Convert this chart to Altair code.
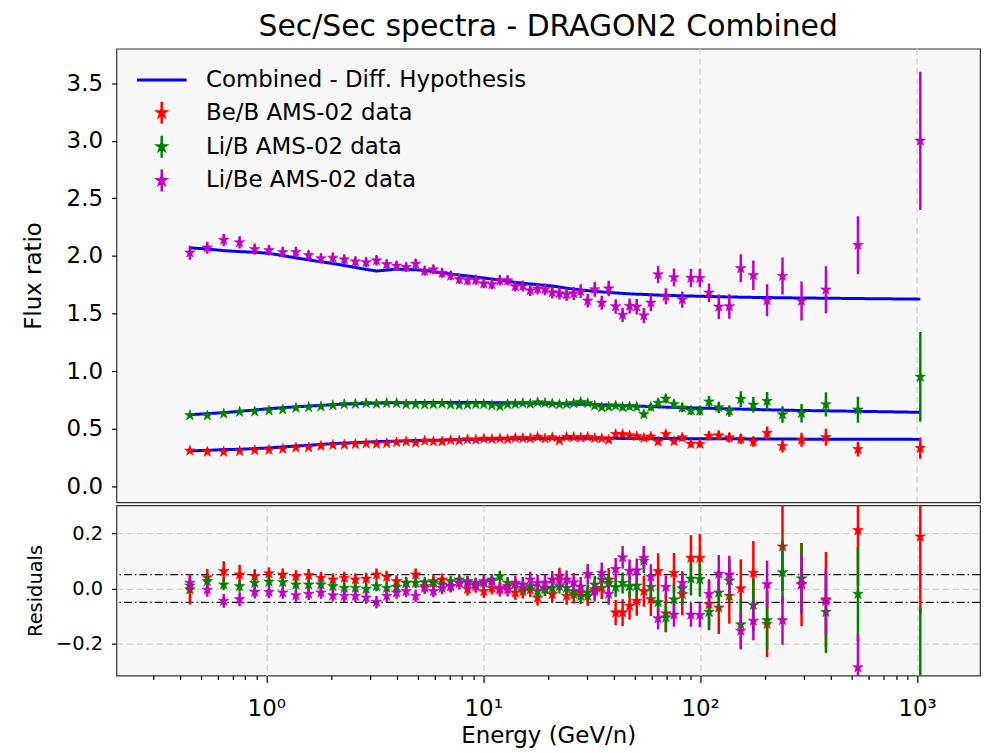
import altair as alt
import pandas as pd

# ---------------- data ----------------
ENERGY = [0.445, 0.535, 0.637, 0.754, 0.885, 1.030, 1.192, 1.371, 1.569, 1.788,
          2.029, 2.290, 2.576, 2.887, 3.225, 3.591, 3.988, 4.415, 4.883, 5.377,
          5.896, 6.465, 7.085, 7.756, 8.476, 9.247, 10.07, 10.97, 11.94, 12.96,
          14.06, 15.23, 16.48, 17.82, 19.27, 20.82, 22.47, 24.24, 26.14, 28.16,
          30.33, 32.68, 35.20, 37.90, 40.80, 43.92, 47.29, 51.03, 55.03, 59.28,
          64.02, 69.50, 75.75, 82.73, 90.71, 99.70, 109.9, 121.9, 136.3, 154.0,
          175.9, 203.5, 239.7, 293.4, 380.1, 533.9, 1034.7]

# model curves (Combined - Diff. Hypothesis) at the data energies
MODEL_BEB = [0.307, 0.312, 0.318, 0.321, 0.327, 0.333, 0.341, 0.350, 0.355, 0.364,
             0.370, 0.375, 0.378, 0.384, 0.387, 0.390, 0.392, 0.395, 0.397, 0.398,
             0.400, 0.401, 0.403, 0.404, 0.406, 0.407, 0.408, 0.410, 0.411, 0.412,
             0.413, 0.413, 0.414, 0.414, 0.415, 0.415, 0.416, 0.416, 0.416, 0.416,
             0.416, 0.416, 0.416, 0.416, 0.416, 0.415, 0.415, 0.415, 0.415, 0.415,
             0.414, 0.414, 0.414, 0.414, 0.413, 0.413, 0.413, 0.412, 0.412, 0.411,
             0.411, 0.410, 0.410, 0.409, 0.409, 0.408, 0.407]
MODEL_LIB = [0.622, 0.630, 0.639, 0.651, 0.662, 0.674, 0.682, 0.690, 0.696, 0.702,
             0.708, 0.714, 0.716, 0.720, 0.722, 0.724, 0.725, 0.726, 0.726, 0.727,
             0.727, 0.727, 0.727, 0.727, 0.727, 0.727, 0.727, 0.726, 0.726, 0.725,
             0.724, 0.723, 0.722, 0.721, 0.720, 0.719, 0.717, 0.715, 0.713, 0.712,
             0.711, 0.709, 0.707, 0.705, 0.703, 0.700, 0.698, 0.696, 0.694, 0.692,
             0.689, 0.687, 0.685, 0.683, 0.681, 0.679, 0.677, 0.675, 0.672, 0.670,
             0.667, 0.664, 0.661, 0.658, 0.655, 0.651, 0.642]
MODEL_LIBE = [2.070, 2.061, 2.046, 2.038, 2.032, 2.023, 2.003, 1.983, 1.966, 1.949,
              1.935, 1.917, 1.900, 1.883, 1.869, 1.877, 1.886, 1.883, 1.880, 1.874,
              1.863, 1.855, 1.843, 1.834, 1.826, 1.817, 1.808, 1.800, 1.791, 1.780,
              1.771, 1.763, 1.757, 1.751, 1.745, 1.739, 1.730, 1.720, 1.712, 1.705,
              1.699, 1.693, 1.688, 1.683, 1.679, 1.675, 1.671, 1.668, 1.666, 1.663,
              1.660, 1.658, 1.656, 1.654, 1.652, 1.650, 1.648, 1.646, 1.644, 1.642,
              1.640, 1.639, 1.637, 1.635, 1.633, 1.630, 1.625]

# residuals (model - data) / model
RES_BEB = [-0.004, 0.040, 0.062, 0.050, 0.044, 0.054, 0.050, 0.044, 0.048, 0.038,
           0.032, 0.038, 0.032, 0.035, 0.050, 0.042, 0.026, 0.020, 0.050, 0.008,
           0.026, 0.032, 0.008, 0.020, -0.002, 0.008, -0.010, 0.002, -0.004, 0.008,
           -0.015, -0.010, -0.004, -0.033, 0.002, -0.021, 0.044, -0.027, -0.021, -0.015,
           -0.027, -0.004, 0.002, 0.032, -0.087, -0.087, -0.063, -0.045, -0.010, -0.039,
           0.062, -0.090, 0.056, -0.021, 0.110, 0.110, -0.057, -0.069, -0.027, 0.000,
           0.056, -0.128, 0.151, 0.014, -0.040, 0.210, 0.187]
RES_LIB = [0.010, 0.026, 0.014, 0.008, 0.020, 0.024, 0.023, 0.014, 0.014, 0.014,
           0.008, 0.002, 0.002, -0.002, 0.008, 0.002, 0.005, 0.020, 0.020, 0.022,
           0.020, 0.014, 0.026, 0.032, 0.026, 0.020, 0.020, 0.032, 0.044, 0.020,
           0.014, 0.002, 0.008, -0.010, -0.004, 0.002, 0.008, 0.002, -0.010, -0.027,
           -0.015, 0.014, 0.032, 0.020, 0.005, 0.020, 0.008, 0.010, 0.100, 0.005,
           -0.050, -0.105, -0.040, 0.000, 0.035, 0.033, -0.085, -0.015, 0.028, -0.130,
           -0.060, -0.115, 0.058, 0.036, -0.085, -0.020, -0.480]
RES_LIBE = [0.020, -0.005, -0.045, -0.039, -0.013, -0.013, -0.015, -0.025, -0.020, -0.015,
            -0.025, -0.027, -0.027, -0.033, -0.049, -0.027, -0.015, -0.010, -0.027, 0.002,
            -0.010, 0.002, 0.008, 0.020, 0.020, 0.014, 0.026, 0.026, 0.002, -0.004,
            0.020, 0.014, 0.032, 0.020, 0.020, 0.032, 0.032, 0.032, 0.022, 0.006,
            0.052, -0.010, 0.056, -0.020, 0.070, 0.112, 0.063, 0.065, 0.110, 0.042,
            -0.108, 0.005, -0.095, 0.020, -0.095, -0.096, -0.020, 0.053, 0.050, -0.153,
            -0.117, 0.015, -0.115, 0.016, -0.045, -0.285, -0.846]

# relative data errors (error / data)
REL_BEB = [0.054, 0.030, 0.036, 0.036, 0.025, 0.022, 0.022, 0.022, 0.022, 0.022,
           0.022, 0.022, 0.022, 0.022, 0.022, 0.022, 0.022, 0.022, 0.022, 0.022,
           0.022, 0.022, 0.022, 0.023, 0.023, 0.023, 0.024, 0.024, 0.025, 0.025,
           0.026, 0.026, 0.027, 0.028, 0.029, 0.030, 0.031, 0.032, 0.033, 0.035,
           0.036, 0.038, 0.040, 0.042, 0.045, 0.048, 0.050, 0.053, 0.056, 0.060,
           0.065, 0.068, 0.072, 0.076, 0.082, 0.087, 0.090, 0.095, 0.100, 0.105,
           0.115, 0.120, 0.160, 0.150, 0.172, 0.200, 0.280]
REL_LIB = [0.025, 0.020, 0.020, 0.020, 0.018, 0.018, 0.018, 0.018, 0.018, 0.018,
           0.018, 0.018, 0.018, 0.018, 0.018, 0.018, 0.018, 0.018, 0.018, 0.018,
           0.018, 0.018, 0.018, 0.019, 0.019, 0.019, 0.020, 0.020, 0.020, 0.021,
           0.021, 0.022, 0.022, 0.023, 0.024, 0.025, 0.026, 0.027, 0.028, 0.029,
           0.030, 0.031, 0.033, 0.034, 0.036, 0.038, 0.040, 0.042, 0.045, 0.047,
           0.050, 0.052, 0.055, 0.058, 0.060, 0.063, 0.066, 0.070, 0.075, 0.090,
           0.095, 0.105, 0.115, 0.127, 0.148, 0.170, 0.410]
REL_LIBE = [0.030, 0.025, 0.025, 0.025, 0.023, 0.022, 0.022, 0.022, 0.022, 0.022,
            0.022, 0.022, 0.022, 0.022, 0.022, 0.022, 0.022, 0.022, 0.022, 0.022,
            0.022, 0.022, 0.022, 0.023, 0.023, 0.023, 0.024, 0.024, 0.025, 0.025,
            0.026, 0.027, 0.028, 0.029, 0.030, 0.031, 0.032, 0.033, 0.034, 0.035,
            0.036, 0.037, 0.038, 0.039, 0.040, 0.041, 0.042, 0.043, 0.044, 0.045,
            0.040, 0.042, 0.043, 0.043, 0.043, 0.044, 0.048, 0.068, 0.068, 0.064,
            0.070, 0.086, 0.088, 0.105, 0.120, 0.120, 0.200]

SERIES = ["Be/B AMS-02 data", "Li/B AMS-02 data", "Li/Be AMS-02 data"]
COLORS = ["#ff0000", "#008000", "#bf00bf"]
LINE_LABEL = "Combined - Diff. Hypothesis"
LINE_COLOR = "#0000ff"

TOP_Y_TICKS = [0.0, 0.5, 1.0, 1.5, 2.0, 2.5, 3.0, 3.5]
BOT_Y_TICKS = [-0.2, 0.0, 0.2]
X_MAJOR = [1, 10, 100, 1000]
X_MINOR = [0.3, 0.4, 0.5, 0.6, 0.7, 0.8, 0.9,
           2, 3, 4, 5, 6, 7, 8, 9,
           20, 30, 40, 50, 60, 70, 80, 90,
           200, 300, 400, 500, 600, 700, 800, 900]
TOP_VLINES = [100, 1000]
THRESHOLDS = [0.05, -0.05]

X_DOMAIN = [0.204, 1950]
TOP_DOMAIN = [-0.14, 3.8]
BOT_DOMAIN = [-0.314, 0.3]

FONT = "DejaVu Sans"
STAR = ("M0,-1L0.2245,-0.309L0.951,-0.309L0.363,0.118L0.588,0.809L0,0.382"
        "L-0.588,0.809L-0.363,0.118L-0.951,-0.309L-0.2245,-0.309Z")
STAR_BAR = ("M0,-0.32L0.072,-0.099L0.304,-0.099L0.116,0.038L0.188,0.259L0,0.122"
            "L-0.188,0.259L-0.116,0.038L-0.304,-0.099L-0.072,-0.099Z"
            "M0,-0.85L0,0.85")

# ---------------- tables ----------------
rows = []
model_rows = []
for name, model, res, rel in zip(SERIES, [MODEL_BEB, MODEL_LIB, MODEL_LIBE],
                                 [RES_BEB, RES_LIB, RES_LIBE],
                                 [REL_BEB, REL_LIB, REL_LIBE]):
    for e, m, r, q in zip(ENERGY, model, res, rel):
        v = m * (1.0 - r)
        rows.append(dict(E=e, series=name, value=v, lo=v - q * v, hi=v + q * v,
                         res=r, rlo=r - q, rhi=r + q))
        model_rows.append(dict(E=e, ratio=name, model=m, label=LINE_LABEL))
data = pd.DataFrame(rows)
model_df = pd.DataFrame(model_rows)

xscale = alt.Scale(type="log", domain=X_DOMAIN, nice=False)
ytop = alt.Scale(domain=TOP_DOMAIN, nice=False, zero=False)
ybot = alt.Scale(domain=BOT_DOMAIN, nice=False, zero=False)
series_scale = alt.Scale(domain=SERIES, range=COLORS)

W = 868
H_TOP = 456
H_BOT = 171
STAR_SIZE = 125

top_y_axis = alt.Axis(values=TOP_Y_TICKS, format=".1f", title="Flux ratio",
                      labelFontSize=23, titleFontSize=23, titleFontWeight="normal",
                      tickSize=5, labelPadding=9, grid=False, domain=False,
                      titleX=-71)

star_legend = alt.Legend(title=None, orient="none", legendX=31, legendY=50,
                         symbolType=STAR_BAR, symbolSize=676, symbolStrokeWidth=2.5,
                         labelFontSize=23, labelFont=FONT, labelOffset=30, labelLimit=0,
                         rowPadding=1, padding=0, symbolOpacity=1)
line_legend = alt.Legend(title=None, orient="none", legendX=19, legendY=5,
                         symbolType="stroke", symbolSize=2500, symbolStrokeWidth=3,
                         symbolStrokeColor=LINE_COLOR, labelFontSize=23, labelLimit=0,
                         labelFont=FONT, labelOffset=18, padding=0)

x_top = alt.X("E:Q", scale=xscale, axis=None)

vlines = alt.Chart(pd.DataFrame({"E": TOP_VLINES})).mark_rule(
    color="#d3d3d3", strokeDash=[6, 4], strokeWidth=1.3).encode(x=x_top)

model_line = alt.Chart(model_df).mark_line(
    color=LINE_COLOR, strokeWidth=3, clip=True).encode(
    x=x_top,
    y=alt.Y("model:Q", scale=ytop, axis=top_y_axis),
    detail="ratio:N",
    strokeDash=alt.StrokeDash("label:N", scale=alt.Scale(domain=[LINE_LABEL], range=[[1, 0]]),
                              legend=line_legend),
)

top_layers = [vlines, model_line]
for s in SERIES:
    sub = alt.Chart(data).transform_filter(alt.datum.series == s)
    top_layers.append(sub.mark_rule(strokeWidth=2.5, clip=True).encode(
        x=x_top,
        y=alt.Y("lo:Q", scale=ytop),
        y2="hi:Q",
        stroke=alt.Stroke("series:N", scale=series_scale, legend=star_legend)))
    top_layers.append(sub.mark_point(shape=STAR, size=STAR_SIZE, filled=True, opacity=1,
                                     strokeWidth=0.6, clip=True).encode(
        x=x_top,
        y=alt.Y("value:Q", scale=ytop),
        fill=alt.Fill("series:N", scale=series_scale, legend=star_legend),
        stroke=alt.Stroke("series:N", scale=series_scale, legend=star_legend)))

top = alt.layer(*top_layers).properties(
    width=W, height=H_TOP,
    title=alt.TitleParams("Sec/Sec spectra - DRAGON2 Combined", fontSize=30,
                          fontWeight="normal", font=FONT, color="black", offset=6),
)

# ---------------- residual panel ----------------
x_major_axis = alt.Axis(values=X_MAJOR, title="Energy (GeV/n)", orient="bottom",
                        labelExpr="datum.value == 1 ? '10⁰' : datum.value == 10 ? '10¹' : datum.value == 100 ? '10²' : '10³'",
                        labelFontSize=23, titleFontSize=23, titleFontWeight="normal",
                        tickSize=7, labelPadding=15, titlePadding=4,
                        grid=True, gridDash=[6, 4], gridColor="#d3d3d3", gridWidth=1.3,
                        domain=False)
x_minor_axis = alt.Axis(values=X_MINOR, orient="bottom", labels=False, title=None,
                        tickSize=4, grid=False, domain=False)
bot_y_axis = alt.Axis(values=BOT_Y_TICKS, format=".1f", title="Residuals",
                      labelFontSize=19.5, titleFontSize=19.5, titleFontWeight="normal",
                      tickSize=5, labelPadding=9, grid=True, gridDash=[6, 4],
                      gridColor="#d3d3d3", gridWidth=1.3, domain=False, titleX=-71)

thr = alt.Chart(pd.DataFrame({"t": THRESHOLDS})).mark_rule(
    color="#111111", strokeDash=[8, 3, 1.5, 3], strokeWidth=1.1).encode(
    y=alt.Y("t:Q", scale=ybot, axis=bot_y_axis))

bot_layers = [thr]
for i, (s, c) in enumerate(zip(SERIES, COLORS)):
    x_enc = alt.X("E:Q", scale=xscale, axis=x_major_axis if i == 0 else None)
    sub = alt.Chart(data).transform_filter(alt.datum.series == s)
    bot_layers.append(sub.mark_rule(color=c, strokeWidth=2.5, clip=True).encode(
        x=x_enc, y=alt.Y("rlo:Q", scale=ybot), y2="rhi:Q"))
    bot_layers.append(sub.mark_point(shape=STAR, size=STAR_SIZE, filled=True, opacity=1,
                                     color=c, stroke=c, strokeWidth=0.6, clip=True).encode(
        x=alt.X("E:Q", scale=xscale, axis=None), y=alt.Y("res:Q", scale=ybot)))

minor = alt.Chart(pd.DataFrame({"E": X_MINOR})).mark_point(opacity=0).encode(
    x=alt.X("E:Q", scale=xscale, axis=x_minor_axis))
bot_layers.append(minor)

bottom = alt.layer(*bot_layers).resolve_axis(x="independent").properties(
    width=W, height=H_BOT)

chart = alt.vconcat(top, bottom, spacing=0).resolve_scale(
    fill="independent", stroke="independent", strokeDash="independent"
).properties(
    padding={"left": 14, "top": 1, "right": 2, "bottom": 0},
    background="white",
).configure_view(
    fill="#f7f7f7", stroke="#333333", strokeWidth=1.2
).configure_axis(
    labelFont=FONT, titleFont=FONT, labelColor="black", titleColor="black",
    tickColor="black", tickWidth=1.2
).configure_legend(
    labelFont=FONT, labelColor="black"
)

chart.save("out.html", embed_options={"renderer": "svg", "actions": False})
